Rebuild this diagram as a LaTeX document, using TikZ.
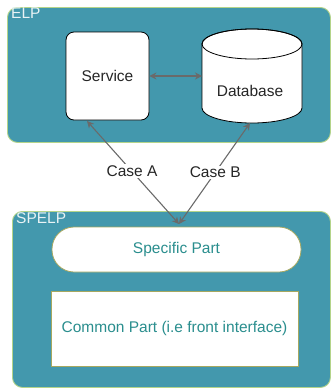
\documentclass[tikz,border=0pt]{standalone}
\usepackage{fontspec}
\setmainfont{Liberation Sans}
\usetikzlibrary{arrows.meta}
\definecolor{panel}{HTML}{4398AD}
\definecolor{panelrim}{HTML}{B4D48A}
\definecolor{innerrim}{HTML}{A6A860}
\definecolor{tealtext}{HTML}{2A8E8E}
\definecolor{link}{HTML}{6A6A6A}
\tikzset{
  panelbox/.style={draw=panelrim, line width=0.9pt, fill=panel, rounded corners=10pt},
  paneltitle/.style={anchor=north west, inner sep=0pt, text=white!88!panel, font=\fontsize{15.5}{16}\selectfont},
  blackbox/.style={draw=black, line width=0.8pt, fill=white},
  tealbox/.style={draw=innerrim, line width=0.8pt, fill=white, text=tealtext, font=\fontsize{15.5}{16}\selectfont},
  bodytext/.style={font=\fontsize{15.5}{16}\selectfont, text=black!85},
  conn/.style={draw=link, line width=1.1pt, {Stealth[length=7pt,width=7pt]}-{Stealth[length=7pt,width=7pt]}},
  caselabel/.style={fill=white, inner sep=1.5pt, font=\fontsize{15.5}{16}\selectfont, text=black!85}
}
\begin{document}
\begin{tikzpicture}[x=1pt,y=-1pt]
\useasboundingbox (0,0) rectangle (334,389);

% ELP panel
\node[panelbox, minimum width=323pt, minimum height=135pt, anchor=north west] (elp) at (7,7) {};
\node[paneltitle] (elpt) at (11,8) {ELP};

\node[blackbox, rounded corners=8pt, minimum width=83pt, minimum height=88pt, bodytext] (svc) at (107.5,76) {Service};

% database cylinder: body with bottom arc, then the top ellipse
\path[blackbox] (202,44) -- (202,108) arc[start angle=180, end angle=360, x radius=50, y radius=-15]
  -- (302,44) arc[start angle=0, end angle=180, x radius=50, y radius=-15] -- cycle;
\draw[black, line width=0.8pt] (252,44) ellipse[x radius=50, y radius=15];
\coordinate (dbw) at (202,76);
\node[bodytext] (dbt) at (250,91) {Database};

\draw[conn] (svc.east) -- (dbw);

% SPELP panel
\node[panelbox, minimum width=318pt, minimum height=176pt, anchor=north west] (spelp) at (12,211) {};
\node[paneltitle] (spelpt) at (16,212) {SPELP};

\node[tealbox, rounded corners=22pt, minimum width=249pt, minimum height=45pt] (spec) at (176.5,249.5) {Specific Part};
\node[tealbox, minimum width=247pt, minimum height=75pt] (common) at (174.5,328.5) {Common Part (i.e front interface)};

\coordinate (meet) at (179,224);
\coordinate (svcb) at (87,121);
\coordinate (dbb) at (250,123);
\draw[conn] (svcb) -- node[caselabel, pos=0.49] (casea) {Case A} (meet);
\draw[conn] (dbb) -- node[caselabel, pos=0.49] (caseb) {Case B} (meet);
\end{tikzpicture}
\end{document}
